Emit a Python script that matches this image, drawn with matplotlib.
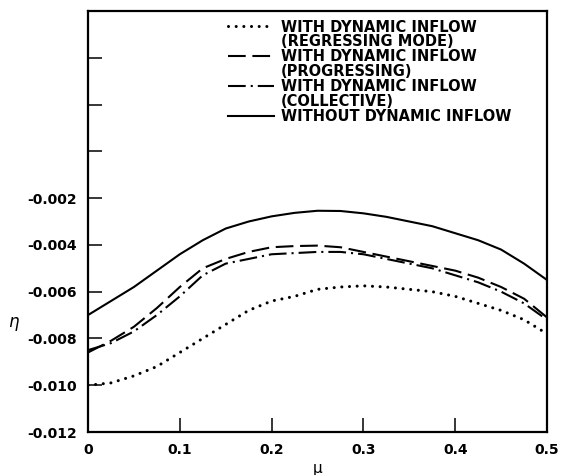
import matplotlib
matplotlib.use('Agg')
import matplotlib.pyplot as plt
from matplotlib.lines import Line2D

# advance ratio
mu = [0.0, 0.025, 0.05, 0.075, 0.1, 0.125, 0.15, 0.175, 0.2, 0.225, 0.25,
      0.275, 0.3, 0.325, 0.35, 0.375, 0.4, 0.425, 0.45, 0.475, 0.5]

# eta for each case
eta_regressing = [-0.0100, -0.0099, -0.0096, -0.0092, -0.0086, -0.0080, -0.0074, -0.0068,
                  -0.0064, -0.0062, -0.0059, -0.0058, -0.00575, -0.0058, -0.0059, -0.0060,
                  -0.0062, -0.0065, -0.0068, -0.0072, -0.0078]
eta_progressing = [-0.0086, -0.0081, -0.0075, -0.0067, -0.0058, -0.0050, -0.0046, -0.0043,
                   -0.0041, -0.00405, -0.00403, -0.0041, -0.0043, -0.0045, -0.0047, -0.0049,
                   -0.0051, -0.0054, -0.0058, -0.0063, -0.0071]
eta_collective = [-0.0085, -0.0082, -0.0077, -0.0070, -0.0062, -0.0053, -0.0048, -0.0046,
                  -0.0044, -0.00435, -0.0043, -0.0043, -0.0044, -0.0046, -0.0048, -0.0050,
                  -0.0053, -0.0056, -0.0060, -0.0065, -0.0072]
eta_without = [-0.0070, -0.0064, -0.0058, -0.0051, -0.0044, -0.0038, -0.0033, -0.0030,
               -0.00278, -0.00263, -0.00254, -0.00255, -0.00265, -0.0028, -0.0030, -0.0032,
               -0.0035, -0.0038, -0.0042, -0.0048, -0.0055]

xticks = [0, 0.1, 0.2, 0.3, 0.4, 0.5]
xtick_labels = ['0', '0.1', '0.2', '0.3', '0.4', '0.5']
yticks = [-0.012, -0.010, -0.008, -0.006, -0.004, -0.002, 0.0, 0.002, 0.004, 0.006]
ytick_labels = ['-0.012', '-0.010', '-0.008', '-0.006', '-0.004', '-0.002', '', '', '', '']

fig = plt.figure(figsize=(5.63, 4.75), dpi=100)
ax = fig.add_axes([0.1563, 0.0905, 0.8153, 0.8863])

l1, = ax.plot(mu, eta_regressing, color='black', lw=2.2, linestyle=(0, (0.01, 2.5)),
              dash_capstyle='round')
l2, = ax.plot(mu, eta_progressing, color='black', lw=1.5, linestyle=(0, (8.5, 3.2)))
l3, = ax.plot(mu, eta_collective, color='black', lw=1.5, linestyle=(0, (8.5, 2.4, 1.0, 2.4)))
l4, = ax.plot(mu, eta_without, color='black', lw=1.5)

ax.set_xlim(0, 0.5)
ax.set_ylim(-0.012, 0.006)
ax.set_yticks(yticks)
ax.set_yticklabels(ytick_labels, fontweight='bold', fontsize=10)
ax.set_xticks(xticks)
ax.set_xticklabels(xtick_labels, fontweight='bold', fontsize=10)
ax.tick_params(direction='in', length=10, width=1.1, pad=8)
for s in ax.spines.values():
    s.set_linewidth(1.6)

ax.set_xlabel('μ', fontsize=11)
ax.xaxis.set_label_coords(0.5, -0.07)
ax.set_ylabel('η', fontsize=12, fontstyle='italic', rotation=0, ha='center', va='center')
ax.yaxis.set_label_coords(-0.163, 0.261)

blank = Line2D([], [], linestyle='none')
handles = [l1, blank, l2, blank, l3, blank, l4]
labels = ['WITH DYNAMIC INFLOW', '(REGRESSING MODE)',
          'WITH DYNAMIC INFLOW', '(PROGRESSING)',
          'WITH DYNAMIC INFLOW', '(COLLECTIVE)',
          'WITHOUT DYNAMIC INFLOW']
leg = ax.legend(handles, labels, loc='upper left', bbox_to_anchor=(0.29, 0.997),
                frameon=False, borderpad=0, handlelength=3.1, handletextpad=0.5,
                labelspacing=-0.01, prop={'weight': 'bold', 'size': 10.5})

fig.savefig('out.png', dpi=100)
